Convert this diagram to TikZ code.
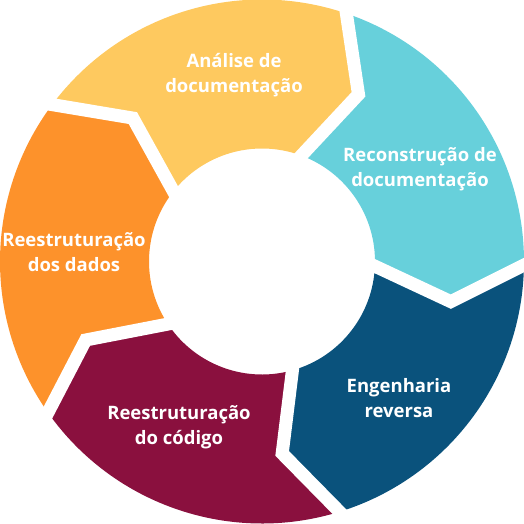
\documentclass[tikz,border=0pt]{standalone}
\usepackage{fontspec}
\setmainfont{Open Sans}
\definecolor{cyyellow}{HTML}{FEC95F}
\definecolor{cycyan}{HTML}{67D0DB}
\definecolor{cyblue}{HTML}{0A527C}
\definecolor{cymaroon}{HTML}{8A103E}
\definecolor{cyorange}{HTML}{FD922B}
\newcommand\cycseg[2]{%
  \fill[#2] (#1:\Ro) arc[start angle=#1, end angle=#1-72, radius=\Ro]
    -- (#1-72-\off:\Rm) -- (#1-72:\Ri)
    arc[start angle=#1-72, end angle=#1, radius=\Ri]
    -- (#1-\off:\Rm) -- cycle;}
\newcommand\cycgap[2]{%
  \coordinate (#2o) at (#1:\Ro+12);
  \coordinate (#2m) at (#1-\off:\Rm);
  \coordinate (#2i) at (#1:\Ri-12);
  \draw[gapline] (#2o) -- (#2m) -- (#2i);}
\begin{document}
\begin{tikzpicture}[x=1pt,y=1pt,
  seglabel/.style={text=white,font=\fontsize{18.5}{25}\selectfont\bfseries,align=center,inner sep=0pt},
  gapline/.style={white,line width=13pt,line join=miter}]
\useasboundingbox (-262,-261.5) rectangle (262,261.5);
\def\Ro{262}\def\Ri{113}\def\Rm{193}\def\off{12.5}
\cycseg{144.5}{cyyellow}
\cycseg{72.5}{cycyan}
\cycseg{0.5}{cyblue}
\cycseg{-71.5}{cymaroon}
\cycseg{-143.5}{cyorange}
\cycgap{144.5}{ga}
\cycgap{72.5}{gb}
\cycgap{0.5}{gc}
\cycgap{-71.5}{gd}
\cycgap{-143.5}{ge}
\node[seglabel] (analise) at (-28,186) {Análise de\\documentação};
\node[seglabel] (reconst) at (158,92) {Reconstrução de\\documentação};
\node[seglabel] (engrev) at (137,-137) {Engenharia\\reversa};
\node[seglabel] (reestcod) at (-83,-166) {Reestruturação\\do código};
\node[seglabel] (reestdad) at (-188,9) {Reestruturação\\dos dados};
\end{tikzpicture}
\end{document}
